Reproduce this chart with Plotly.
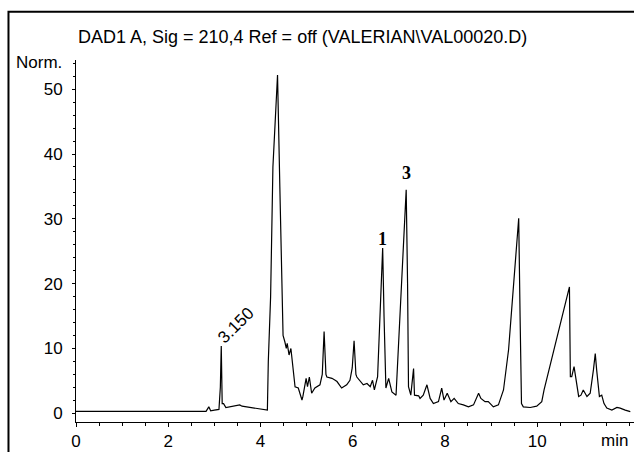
import plotly.graph_objects as go

# Retention time (min) and signal (Norm.)
time_min = [0.0, 0.5, 1.0, 1.5, 2.0, 2.3, 2.5, 2.7, 2.82, 2.88, 2.92, 3.0, 3.1, 3.13, 3.15, 3.17,
            3.2, 3.25, 3.35, 3.45, 3.55, 3.6, 3.7, 3.85, 4.0, 4.14,
            4.15, 4.17, 4.22, 4.27, 4.37, 4.42, 4.46, 4.49, 4.53, 4.56, 4.58, 4.62, 4.66, 4.69,
            4.75, 4.82, 4.90, 4.92, 4.99, 5.02, 5.06, 5.11, 5.18, 5.29, 5.34, 5.38, 5.42, 5.44,
            5.55, 5.62, 5.66, 5.76, 5.87, 5.94, 5.99, 6.03, 6.07, 6.09, 6.16, 6.23, 6.31, 6.38,
            6.43, 6.47, 6.54, 6.59, 6.65, 6.68, 6.72, 6.78, 6.85, 6.94, 6.99, 7.07, 7.16, 7.19,
            7.21, 7.26, 7.32, 7.34, 7.43, 7.46, 7.53, 7.61, 7.68, 7.75, 7.86, 7.93, 7.98, 8.05,
            8.13, 8.20, 8.29, 8.40, 8.51, 8.62, 8.73, 8.78, 8.87, 8.94, 9.05, 9.16, 9.27, 9.38,
            9.49, 9.60, 9.63, 9.66, 9.70, 9.85, 9.99, 10.10, 10.15, 10.70, 10.72, 10.75, 10.80,
            10.85, 10.90, 10.95, 11.00, 11.08, 11.15, 11.22, 11.26, 11.29, 11.35, 11.40, 11.45,
            11.51, 11.62, 11.73, 11.80, 11.91, 12.02]
signal = [0.3, 0.3, 0.25, 0.25, 0.25, 0.3, 0.25, 0.3, 0.3, 1.0, 0.4, 0.5, 0.6, 4.0, 10.4, 1.5,
          1.5, 0.9, 1.0, 1.1, 1.3, 1.1, 1.0, 0.8, 0.7, 0.5,
          0.5, 8.0, 18.0, 38.0, 52.2, 35.0, 19.0, 12.0, 11.0, 10.0, 10.8, 9.0, 10.0, 8.2,
          4.1, 3.9, 2.05, 2.6, 5.4, 4.1, 5.6, 3.1, 3.9, 4.4, 6.0, 12.6, 6.0, 5.6,
          5.4, 5.1, 4.9, 3.9, 4.4, 5.1, 7.0, 11.2, 6.0, 5.6, 5.0, 4.4, 4.6, 4.1,
          5.1, 3.6, 5.65, 14.9, 25.5, 14.9, 3.9, 5.4, 3.3, 2.8, 9.8, 22.6, 34.5, 20.0,
          4.1, 2.8, 6.9, 2.8, 2.7, 2.3, 2.8, 4.4, 2.3, 1.5, 1.8, 3.9, 2.05, 3.1,
          1.8, 2.3, 1.5, 1.3, 1.0, 1.3, 3.1, 2.3, 1.8, 1.8, 1.0, 1.3, 3.6, 9.8,
          20.0, 30.1, 14.9, 1.5, 1.0, 0.9, 1.1, 1.8, 3.6, 19.5, 5.65, 5.65, 7.2,
          5.1, 2.6, 2.8, 3.6, 2.6, 3.1, 6.7, 9.2, 6.7, 2.6, 2.8, 1.5,
          0.8, 0.5, 0.9, 0.8, 0.5, 0.25]

x_ticks = [0, 2, 4, 6, 8, 10]
y_ticks = [0, 10, 20, 30, 40, 50]

title_text = "DAD1 A, Sig = 210,4 Ref = off (VALERIAN\\VAL00020.D)"
peak_labels = [("1", 6.65, 26.9), ("3", 7.16, 37.0)]
rt_label = ("3.150", 3.47, 13.5)

fig = go.Figure()
fig.add_trace(go.Scatter(x=time_min, y=signal, mode="lines",
                         line=dict(color="black", width=1.2), showlegend=False))

axis_font = dict(family="Liberation Sans, Arial", size=17, color="black")

fig.update_layout(
    width=634, height=452,
    margin=dict(l=76, r=0, t=60, b=30),
    paper_bgcolor="white", plot_bgcolor="white",
    xaxis=dict(range=[0, 12.1], tickvals=x_ticks, ticktext=[str(v) for v in x_ticks],
               showline=True, linecolor="black", linewidth=1, showgrid=False, zeroline=False,
               ticks="outside", ticklen=4, tickcolor="black", tickfont=axis_font,
               minor=dict(dtick=0.5, ticks="outside", ticklen=3, tickcolor="black")),
    yaxis=dict(range=[-1.34, 54.5], tickvals=y_ticks, ticktext=[str(v) for v in y_ticks],
               showline=True, linecolor="black", linewidth=1, showgrid=False, zeroline=False,
               ticks="outside", ticklen=3, tickcolor="black", tickfont=axis_font,
               ticklabelstandoff=6,
               minor=dict(dtick=2, ticks="outside", ticklen=2, tickcolor="black")),
)

fig.add_annotation(text=title_text, xref="paper", yref="paper", x=0.0, y=1.0635,
                   xanchor="left", yanchor="middle", showarrow=False,
                   font=dict(family="Liberation Sans, Arial", size=18, color="black"))
fig.add_annotation(text="Norm.", xref="paper", yref="paper", x=-0.0215, y=0.994,
                   xanchor="right", yanchor="middle", showarrow=False, font=axis_font)
fig.add_annotation(text="min", xref="paper", yref="paper", x=0.993, y=-0.05,
                   xanchor="right", yanchor="middle", showarrow=False, font=axis_font)
fig.add_annotation(text=rt_label[0], x=rt_label[1], y=rt_label[2], xref="x", yref="y",
                   textangle=-45, showarrow=False,
                   font=dict(family="Liberation Sans, Arial", size=17, color="black"))
for txt, px, py in peak_labels:
    fig.add_annotation(text="<b>" + txt + "</b>", x=px, y=py, xref="x", yref="y",
                       showarrow=False,
                       font=dict(family="Liberation Serif, Times New Roman", size=18, color="black"))

# frame around the figure (cropped at right and bottom)
fig.add_shape(type="rect", xref="paper", yref="paper", x0=-0.121, y0=-0.3, x1=1.2, y1=1.133,
              line=dict(color="black", width=2))

# remove the default page margin so the 634x452 figure fills the window exactly
fig.write_html("out.html", config={"displayModeBar": False},
               post_script="document.body.style.margin='0';document.body.style.overflow='hidden';")
